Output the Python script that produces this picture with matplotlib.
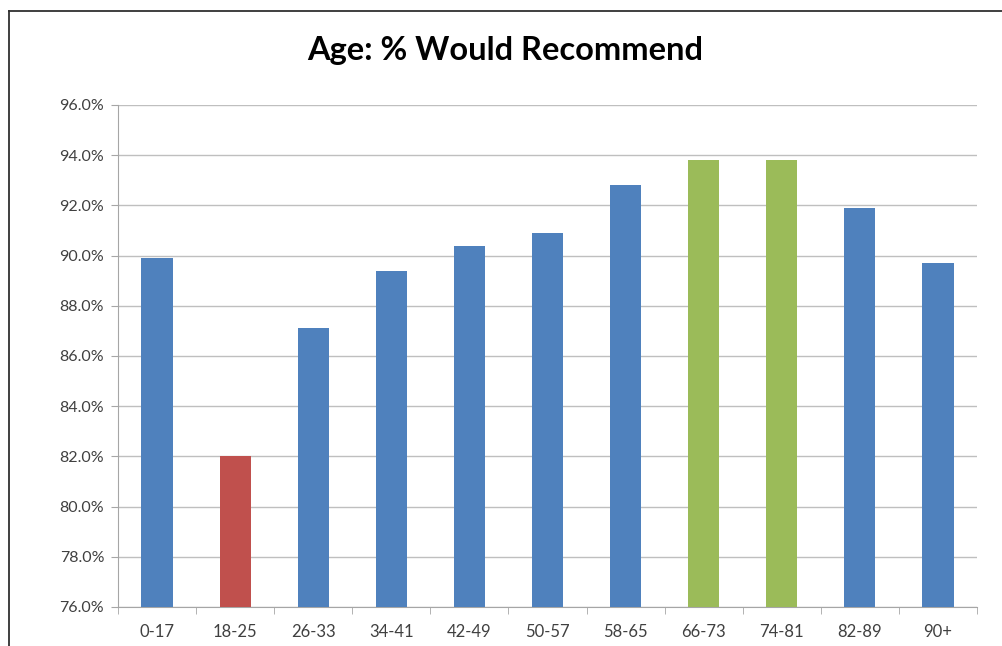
import matplotlib
matplotlib.use("Agg")
import matplotlib.pyplot as plt
from matplotlib.lines import Line2D
from matplotlib.ticker import FuncFormatter, MultipleLocator

# доля рекомендующих по возрастным группам, %
age_groups = ["0-17", "18-25", "26-33", "34-41", "42-49", "50-57",
              "58-65", "66-73", "74-81", "82-89", "90+"]
pct_recommend = [89.9, 82.0, 87.1, 89.4, 90.4, 90.9, 92.8, 93.8, 93.8, 91.9, 89.7]
bar_colors = ["#4F81BD", "#C0504D", "#4F81BD", "#4F81BD", "#4F81BD", "#4F81BD",
              "#4F81BD", "#9BBB59", "#9BBB59", "#4F81BD", "#4F81BD"]

plt.rcParams["font.family"] = ["Lato", "DejaVu Sans"]

fig = plt.figure(figsize=(10.02, 6.46), dpi=100)
ax = fig.add_axes([0.1178, 0.0604, 0.975 - 0.1178, 0.8375 - 0.0604])

x = range(len(age_groups))
ax.bar(x, [v - 76 for v in pct_recommend], bottom=76, width=0.4,
       color=bar_colors, zorder=3)

ax.set_xlim(-0.5, len(age_groups) - 0.5)
ax.set_ylim(76, 96)
ax.yaxis.set_major_locator(MultipleLocator(2))
ax.yaxis.set_major_formatter(FuncFormatter(lambda v, _: f"{v:.1f}%"))
ax.grid(axis="y", color="#BFBFBF", lw=1.0, zorder=0)

ax.set_xticks(list(x))
ax.set_xticklabels(age_groups)
ax.tick_params(axis="x", length=0, pad=12, labelsize=12, labelcolor="#404040")
ax.set_xticks([i + 0.5 for i in range(-1, len(age_groups))], minor=True)
ax.tick_params(axis="x", which="minor", length=5, direction="out", color="#A6A6A6")
ax.tick_params(axis="y", length=5, color="#A6A6A6", labelsize=11.5,
               labelcolor="#404040", pad=5)

for side in ("top", "right"):
    ax.spines[side].set_visible(False)
for side in ("left", "bottom"):
    ax.spines[side].set_color("#A6A6A6")

fig.text(0.504, 0.922, "Age: % Would Recommend", ha="center", va="center",
         fontsize=23.5, fontweight="bold", color="#000000")

# рамка области диаграммы
frame_kw = dict(transform=fig.transFigure, color="#303030", lw=1.3)
fig.add_artist(Line2D([9 / 1002, 9 / 1002], [0, 1 - 11 / 646], **frame_kw))
fig.add_artist(Line2D([9 / 1002, 1], [1 - 11 / 646, 1 - 11 / 646], **frame_kw))

fig.savefig("out.png", dpi=100)
